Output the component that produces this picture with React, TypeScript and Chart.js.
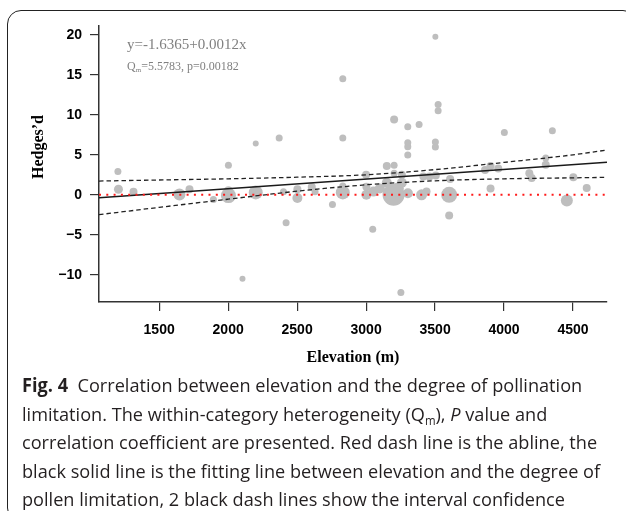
import React, { useEffect, useRef } from "react";
import { Chart, registerables } from "chart.js";

Chart.register(...registerables);

// ---- data ----
const elevation = [
  1201, 1205, 1314, 1647, 1720, 1893, 2002, 2002, 2002, 2104,
  2200, 2200, 2370, 2401, 2420, 2502, 2502, 2606, 2630, 2756,
  2831, 2831, 2831, 2831, 3000, 3002, 3002, 3053, 3048, 3150,
  3150, 3100, 3203, 3203, 3203, 3199, 3230, 3252, 3259, 3259,
  3303, 3302, 3302, 3302, 3302, 3384, 3402, 3438, 3415, 3459,
  3502, 3522, 3522, 3502, 3502, 3505, 3609, 3602, 3602, 3862,
  3902, 3958, 3902, 4002, 4183, 4200, 4302, 4302, 4350, 4455,
  4502, 4599,
];
const hedgesD = [
  2.9, 0.7, 0.37, 0.04, 0.7, -0.6, 3.7, 0.5, -0.1, -10.5,
  6.4, 0.3, 7.1, 0.37, -3.5, 0.7, -0.4, 0.96, 0.37, -1.2,
  14.5, 7.1, 1.1, 0.3, 2.5, 1.0, 0.0, 0.4, -4.3, 3.6,
  1.5, 0.8, 9.4, 3.7, 2.7, 0.0, 0.8, -12.2, 2.5, 1.5,
  0.2, 8.5, 6.5, 6.0, 4.96, 8.8, 0.0, 0.4, 2.3, 2.3,
  19.75, 11.3, 10.5, 6.6, 5.96, 2.4, 1.96, 0.0, -2.6, 3.1,
  3.6, 3.3, 0.8, 7.8, 2.7, 2.1, 4.6, 3.75, 8.0, -0.7,
  2.2, 0.84,
];
// relative study weight, shown as the point radius
const weight = [
  3.5, 4.5, 4, 6, 4, 3.5, 3.5, 4.5, 7.5, 3,
  3, 7, 3.5, 3.5, 3.5, 4, 5, 4, 3.5, 3.5,
  3.5, 3.5, 3.5, 7, 4, 4, 5, 5, 3.5, 4,
  5, 5, 4, 3.5, 3.5, 11, 6, 3.5, 4, 5,
  5, 3.5, 3.5, 3.5, 3.5, 3.5, 5.5, 4, 4, 4,
  3, 3.5, 3.5, 3.5, 3.5, 4, 4, 8, 4, 4,
  4, 4, 4, 3.5, 4, 4, 3.5, 4, 3.5, 6,
  4, 4,
];

const xTicks = [1500, 2000, 2500, 3000, 3500, 4000, 4500];
const yTicks = [-10, -5, 0, 5, 10, 15, 20];
const xRange = [1064, 4746];
const yRange = [-13.4, 21.1];

const ablineY = 0;
const fitX = [1064, 4746];
const fitY = [-0.36, 4.06];
const ciX = [1064, 1500, 2000, 2500, 3000, 3500, 4000, 4500, 4746];
const ciUpper = [1.72, 1.85, 2.0, 2.2, 2.5, 3.15, 4.05, 5.0, 5.6];
const ciLower = [-2.48, -1.57, -0.55, 0.45, 1.25, 1.75, 2.0, 2.12, 2.18];

const captionLines = [
  "Correlation between elevation and the degree of pollination",
  "black solid line is the fitting line between elevation and the degree of",
  "pollen limitation, 2 black dash lines show the interval confidence",
];

const fmt = (v: number) => (v < 0 ? "\u2212" + Math.abs(v) : String(v));

export default function App() {
  const ref = useRef<HTMLCanvasElement>(null);

  useEffect(() => {
    const canvas = ref.current;
    if (!canvas) return;
    const pts = (xs: number[], ys: number[]) => xs.map((x, i) => ({ x, y: ys[i] }));
    const chart = new Chart(canvas, {
      type: "scatter",
      data: {
        datasets: [
          {
            label: "abline",
            data: xRange.map((x) => ({ x, y: ablineY })),
            showLine: true,
            borderColor: "#ff1a1a",
            borderWidth: 2,
            borderDash: [2, 5.3],
            pointRadius: 0,
          },
          {
            label: "fit",
            data: pts(fitX, fitY),
            showLine: true,
            borderColor: "#1a1a1a",
            borderWidth: 1.4,
            pointRadius: 0,
          },
          {
            label: "upper",
            data: pts(ciX, ciUpper),
            showLine: true,
            borderColor: "#222",
            borderWidth: 1.3,
            borderDash: [4.5, 3],
            cubicInterpolationMode: "monotone",
            pointRadius: 0,
          },
          {
            label: "lower",
            data: pts(ciX, ciLower),
            showLine: true,
            borderColor: "#222",
            borderWidth: 1.3,
            borderDash: [4.5, 3],
            cubicInterpolationMode: "monotone",
            pointRadius: 0,
          },
          {
            label: "studies",
            data: pts(elevation, hedgesD),
            pointRadius: weight,
            pointHoverRadius: weight,
            pointBackgroundColor: "rgb(190,190,190)",
            pointBorderWidth: 0,
            borderWidth: 0,
          },
        ],
      },
      options: {
        animation: false,
        responsive: false,
        events: [],
        layout: { padding: { left: 0, right: 19, top: 26, bottom: 0 } },
        plugins: { legend: { display: false }, tooltip: { enabled: false } },
        scales: {
          x: {
            type: "linear",
            min: xRange[0],
            max: xRange[1],
            afterBuildTicks: (s: any) => {
              s.ticks = xTicks.map((v) => ({ value: v }));
            },
            afterFit: (s: any) => {
              s.height = 78;
            },
            grid: {
              display: true,
              drawOnChartArea: false,
              drawTicks: true,
              tickLength: 9,
              color: "#333",
              lineWidth: 1.2,
            },
            border: { display: true, color: "#333", width: 1.5 },
            ticks: {
              color: "#000",
              padding: 11,
              maxRotation: 0,
              autoSkip: false,
              callback: (v: any) => fmt(Number(v)),
              font: { family: "'Liberation Sans', Arial, sans-serif", size: 14, weight: "bold" },
            },
            title: {
              display: true,
              text: "Elevation (m)",
              color: "#000",
              font: { family: "'Liberation Serif', 'Times New Roman', serif", size: 16, weight: "bold" },
              padding: { top: 0, bottom: 13 },
            },
          },
          y: {
            type: "linear",
            min: yRange[0],
            max: yRange[1],
            afterBuildTicks: (s: any) => {
              s.ticks = yTicks.map((v) => ({ value: v }));
            },
            afterFit: (s: any) => {
              s.width = 99;
            },
            grid: {
              display: true,
              drawOnChartArea: false,
              drawTicks: true,
              tickLength: 9,
              color: "#333",
              lineWidth: 1.2,
            },
            border: { display: true, color: "#333", width: 1.5 },
            ticks: {
              color: "#000",
              padding: 8,
              callback: (v: any) => fmt(Number(v)),
              font: { family: "'Liberation Sans', Arial, sans-serif", size: 14, weight: "bold" },
            },
          },
        },
      },
    } as any);
    return () => chart.destroy();
  }, []);

  const cap: React.CSSProperties = {
    whiteSpace: "nowrap",
    height: 28.5,
    lineHeight: "28.5px",
    transform: "scaleX(0.955)",
    transformOrigin: "0 50%",
  };

  return (
    <div
      style={{
        position: "absolute",
        left: 0,
        top: 0,
        width: 626,
        height: 511,
        overflow: "hidden",
        background: "#fff",
      }}
    >
      <div
        style={{
          position: "absolute",
          left: 7,
          top: 10,
          width: 628,
          height: 510,
          border: "1.5px solid #222",
          borderRadius: 14,
        }}
      />
      <canvas
        ref={ref}
        width={626}
        height={380}
        style={{ position: "absolute", left: 0, top: 0, width: 626, height: 380 }}
      />
      <div
        style={{
          position: "absolute",
          left: 38,
          top: 147,
          transform: "translate(-50%, -50%) rotate(-90deg)",
          font: "bold 16px 'Liberation Serif', 'Times New Roman', serif",
          color: "#000",
          whiteSpace: "nowrap",
        }}
      >
        Hedges’d
      </div>
      <div
        style={{
          position: "absolute",
          left: 127,
          top: 44,
          transform: "translateY(-50%)",
          font: "15px 'Liberation Serif', 'Times New Roman', serif",
          color: "#808080",
          whiteSpace: "nowrap",
        }}
      >
        y=-1.6365+0.0012x
      </div>
      <div
        style={{
          position: "absolute",
          left: 127,
          top: 66,
          transform: "translateY(-50%)",
          font: "12px 'Liberation Serif', 'Times New Roman', serif",
          color: "#808080",
          whiteSpace: "nowrap",
        }}
      >
        Q<span style={{ fontSize: 7, verticalAlign: -2 }}>m</span>=5.5783, p=0.00182
      </div>
      <div
        style={{
          position: "absolute",
          left: 22,
          top: 371,
          font: "19px 'Open Sans', 'Noto Sans', sans-serif",
          color: "#231f20",
        }}
      >
        <div style={cap}>
          <b>Fig. 4</b>&nbsp; {captionLines[0]}
        </div>
        <div style={cap}>
          limitation. The within-category heterogeneity (Q
          <span style={{ fontSize: 12, verticalAlign: -4 }}>m</span>), <i>P</i> value and
        </div>
        <div style={cap}>
          correlation coefficient are presented. Red dash line is the abline, the
        </div>
        <div style={cap}>{captionLines[1]}</div>
        <div style={cap}>{captionLines[2]}</div>
      </div>
    </div>
  );
}
